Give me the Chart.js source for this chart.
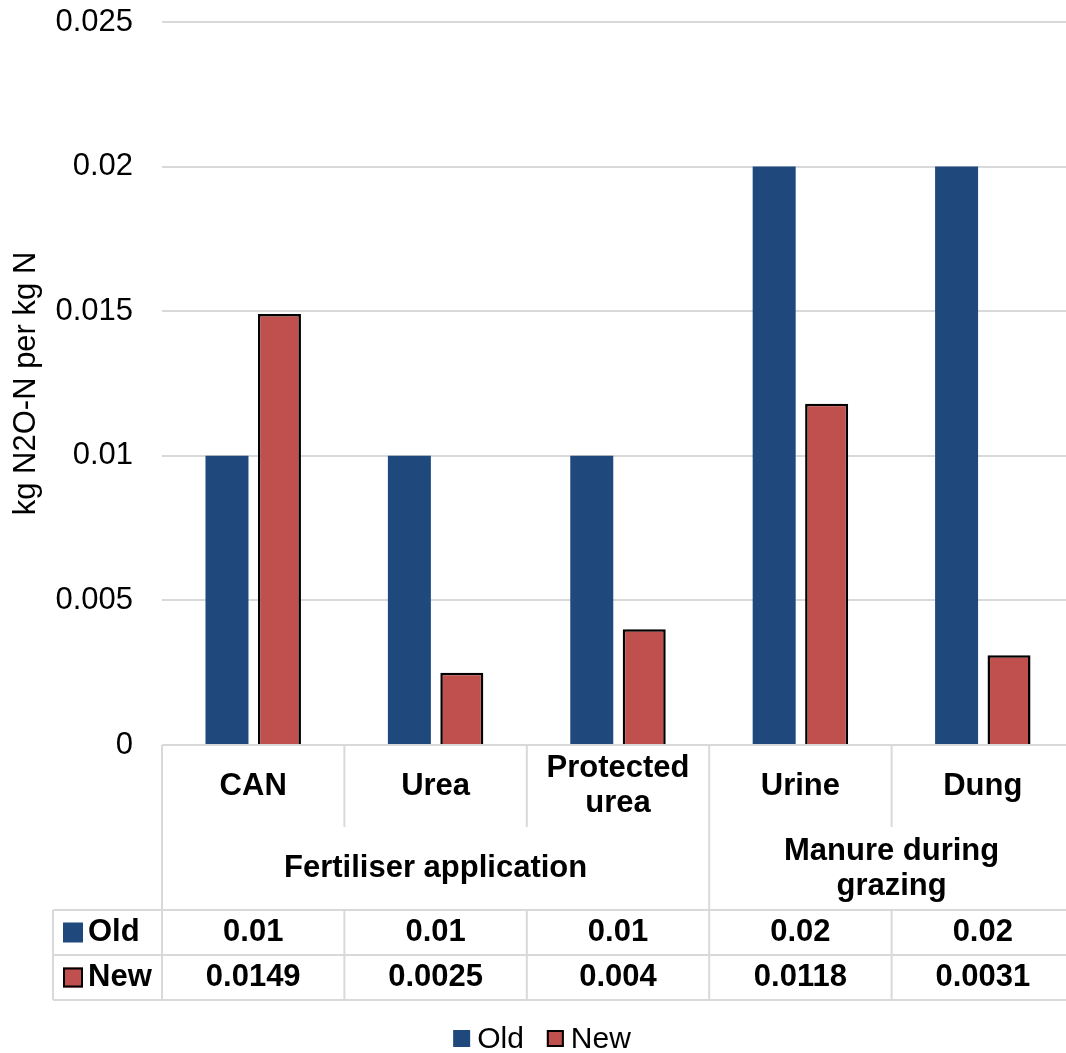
<!DOCTYPE html>
<html><head><meta charset="utf-8">
<script src="https://cdn.jsdelivr.net/npm/chart.js@4/dist/chart.umd.min.js"></script>
<style>
html,body{margin:0;padding:0;overflow:hidden;background:#fff;}
#wrap{position:relative;width:1074px;height:1053px;}
</style></head><body>
<div id="wrap"><canvas id="c" width="1074" height="1053"></canvas></div>
<script>
const categories = [['CAN'], ['Urea'], ['Protected', 'urea'], ['Urine'], ['Dung']];
const groupLabels = [['Fertiliser application'], ['Manure during', 'grazing']];
const groupSpans = [3, 2];
const seriesNames = ['Old', 'New'];
const oldValues = [0.01, 0.01, 0.01, 0.02, 0.02];
const newValues = [0.0149, 0.0025, 0.004, 0.0118, 0.0031];
const yTicks = [0, 0.005, 0.01, 0.015, 0.02, 0.025];
const yTitle = 'kg N2O-N per kg N';

const FONT = '"Liberation Sans", Arial, sans-serif';
const BLUE = '#1F497D';
const RED = '#C0504D';

const tablePlugin = {
  id: 'dataTable',
  afterDraw(chart) {
    const {ctx, chartArea: a, scales: {x}} = chart;
    const n = categories.length;
    const edge = i => i <= 0 ? a.left : (i >= n ? a.right : (x.getPixelForValue(i - 1) + x.getPixelForValue(i)) / 2);
    const top = a.bottom;
    const catBottom = top + 82, grpBottom = top + 165, r1 = top + 210, r2 = top + 255;
    const leftCol = 53;
    ctx.save();
    ctx.strokeStyle = '#d9d9d9';
    ctx.lineWidth = 2;
    const line = (x1, y1, x2, y2) => { ctx.beginPath(); ctx.moveTo(x1, y1); ctx.lineTo(x2, y2); ctx.stroke(); };
    line(a.left, top, a.right, top);
    line(leftCol, grpBottom, a.right, grpBottom);
    line(leftCol, r1, a.right, r1);
    line(leftCol, r2, a.right, r2);
    line(leftCol, grpBottom, leftCol, r2);
    const groupEdges = [0];
    let gi = 0;
    groupSpans.forEach(s => { gi += s; groupEdges.push(gi); });
    for (let i = 0; i <= n; i++) {
      const xe = edge(i);
      if (groupEdges.includes(i)) line(xe, top, xe, r2);
      else { line(xe, top, xe, catBottom); line(xe, grpBottom, xe, r2); }
    }
    ctx.fillStyle = '#000';
    ctx.textAlign = 'center';
    ctx.textBaseline = 'middle';
    ctx.font = 'bold 31px ' + FONT;
    const lh = 35;
    const multiline = (lines, cx, cy) => lines.forEach((t, k) => ctx.fillText(t, cx, cy + (k - (lines.length - 1) / 2) * lh));
    categories.forEach((c, i) => multiline(c, x.getPixelForValue(i), (top + catBottom) / 2));
    groupLabels.forEach((g, j) => multiline(g, (edge(groupEdges[j]) + edge(groupEdges[j + 1])) / 2, (catBottom + grpBottom) / 2));
    const rowBounds = [[grpBottom, r1], [r1, r2]];
    chart.data.datasets.forEach((ds, d) => {
      const cy = (rowBounds[d][0] + rowBounds[d][1]) / 2;
      ctx.fillStyle = '#000';
      ctx.textAlign = 'center';
      ds.data.forEach((v, i) => ctx.fillText(String(v), x.getPixelForValue(i), cy));
      ctx.fillStyle = ds.backgroundColor;
      ctx.fillRect(63, cy - 10, 20, 20);
      if (ds.borderWidth) {
        ctx.strokeStyle = '#000'; ctx.lineWidth = 2;
        ctx.strokeRect(64, cy - 9, 18, 18);
      }
      ctx.fillStyle = '#000';
      ctx.textAlign = 'left';
      ctx.fillText(ds.label, 88, cy);
    });
    ctx.font = '30px ' + FONT;
    ctx.textBaseline = 'alphabetic';
    const box = 17, gapText = 7, gapItem = 23;
    const widths = chart.data.datasets.map(ds => box + gapText + ctx.measureText(ds.label).width);
    const total = widths.reduce((s, w) => s + w, 0) + gapItem * (widths.length - 1);
    let lx = 542 - total / 2;
    const base = 1048;
    chart.data.datasets.forEach((ds, d) => {
      ctx.fillStyle = ds.backgroundColor;
      ctx.fillRect(lx, base - 18, box, box);
      if (ds.borderWidth) {
        ctx.strokeStyle = '#000'; ctx.lineWidth = 2;
        ctx.strokeRect(lx + 1, base - 17, box - 2, box - 2);
      }
      ctx.fillStyle = '#000';
      ctx.textAlign = 'left';
      ctx.fillText(ds.label, lx + box + gapText, base);
      lx += widths[d] + gapItem;
    });
    ctx.restore();
  }
};

new Chart(document.getElementById('c'), {
  type: 'bar',
  data: {
    labels: categories.map(c => c.join(' ')),
    datasets: [
      { label: seriesNames[0], data: oldValues, backgroundColor: BLUE, borderWidth: 0 },
      { label: seriesNames[1], data: newValues, backgroundColor: RED, borderColor: '#000', borderWidth: 2.5 }
    ]
  },
  options: {
    responsive: false,
    devicePixelRatio: 1,
    animation: false,
    layout: { padding: { top: 22, right: 0, bottom: 308, left: 0 } },
    datasets: { bar: { categoryPercentage: 0.575, barPercentage: 0.82 } },
    plugins: { legend: { display: false }, tooltip: { enabled: false } },
    scales: {
      x: { display: false },
      y: {
        min: 0, max: 0.025,
        afterBuildTicks: s => { s.ticks = yTicks.map(v => ({ value: v })); },
        afterFit: s => { s.width = 162; },
        border: { display: false },
        grid: { color: '#d9d9d9', lineWidth: 2, drawTicks: true, tickLength: 26, tickColor: 'rgba(0,0,0,0)' },
        ticks: { padding: 3, color: '#000', font: { family: FONT, size: 31 }, callback: v => String(v) },
        title: { display: true, text: yTitle, color: '#000', font: { family: FONT, size: 31 }, padding: { top: 8, bottom: 0 } }
      }
    }
  },
  plugins: [tablePlugin]
});
</script>
</body></html>
